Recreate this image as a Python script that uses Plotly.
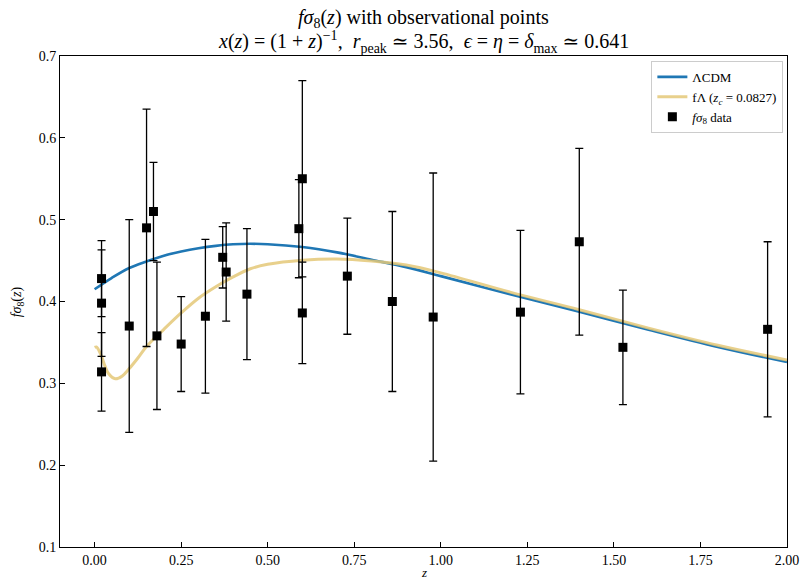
import plotly.graph_objects as go

# ---- observational f*sigma8 data ----
z_obs = [0.02, 0.02, 0.02, 0.10, 0.15, 0.17, 0.18, 0.25, 0.32, 0.37, 0.38, 0.44,
         0.59, 0.60, 0.60, 0.73, 0.86, 0.978, 1.23, 1.40, 1.526, 1.944]
fs8_obs = [0.428, 0.398, 0.314, 0.370, 0.490, 0.510, 0.358, 0.348, 0.382, 0.454, 0.436, 0.409,
           0.489, 0.550, 0.386, 0.431, 0.400, 0.381, 0.387, 0.473, 0.344, 0.366]
fs8_err = [0.0465, 0.065, 0.048, 0.130, 0.145, 0.060, 0.090, 0.058, 0.094, 0.0375, 0.060, 0.080,
           0.060, 0.120, 0.062, 0.071, 0.110, 0.176, 0.100, 0.114, 0.070, 0.107]

# ---- model curves ----
z_lcdm = [0.0, 0.05, 0.10, 0.15, 0.20, 0.25, 0.30, 0.35, 0.40, 0.45, 0.50, 0.60, 0.70,
          0.80, 0.90, 1.00, 1.20, 1.40, 1.60, 1.80, 2.00]
fs8_lcdm = [0.415, 0.429, 0.441, 0.449, 0.456, 0.461, 0.465, 0.468, 0.470, 0.4705, 0.470, 0.4665, 0.460,
            0.451, 0.442, 0.431, 0.409, 0.3875, 0.3655, 0.3445, 0.326]

z_fl = [0.0, 0.005, 0.01, 0.02, 0.03, 0.04, 0.06, 0.08, 0.10, 0.125, 0.15, 0.20, 0.25, 0.30,
        0.35, 0.40, 0.45, 0.50, 0.60, 0.70, 0.80, 0.90, 1.00, 1.20, 1.40, 1.60, 1.80, 2.00]
fs8_fl = [0.344, 0.3445, 0.342, 0.333, 0.321, 0.312, 0.3055, 0.309, 0.318, 0.331, 0.345, 0.366, 0.386,
          0.404, 0.418, 0.430, 0.440, 0.4455, 0.4505, 0.452, 0.4495, 0.4445, 0.435, 0.4115, 0.390,
          0.3675, 0.3465, 0.3285]

x_ticks = [0.0, 0.25, 0.5, 0.75, 1.0, 1.25, 1.5, 1.75, 2.0]
y_ticks = [0.1, 0.2, 0.3, 0.4, 0.5, 0.6, 0.7]

FONT = "Liberation Serif, DejaVu Serif, serif"

fig = go.Figure()
fig.add_trace(go.Scatter(
    x=z_lcdm, y=fs8_lcdm, mode="lines", name="ΛCDM",
    line=dict(color="#1f77b4", width=2.6, shape="spline"),
))
fig.add_trace(go.Scatter(
    x=z_fl, y=fs8_fl, mode="lines",
    name="fΛ (<i>z<sub>c</sub></i> = 0.0827)",
    line=dict(color="rgba(228,200,120,0.85)", width=3, shape="spline"),
))
fig.add_trace(go.Scatter(
    x=z_obs, y=fs8_obs, mode="markers", name="<i>fσ</i><sub>8</sub> data",
    marker=dict(symbol="square", size=9, color="black"),
    error_y=dict(type="data", array=fs8_err, visible=True, color="black",
                 thickness=1.3, width=4),
))

annotations = [
    dict(text="<i>fσ</i><sub>8</sub>(<i>z</i>) with observational points",
         xref="paper", yref="paper", x=0.5, y=1.077, xanchor="center", yanchor="middle",
         showarrow=False, font=dict(family=FONT, size=20, color="black")),
    dict(text="<i>x</i>(<i>z</i>) = (1 + <i>z</i>)<sup>−1</sup>,  <i>r</i><sub>peak</sub> ≃ 3.56,  "
              "<i>ϵ</i> = <i>η</i> = <i>δ</i><sub>max</sub> ≃ 0.641",
         xref="paper", yref="paper", x=0.5, y=1.028, xanchor="center", yanchor="middle",
         showarrow=False, font=dict(family=FONT, size=20, color="black")),
    dict(text="<i>z</i>", xref="paper", yref="paper", x=0.5, y=-0.051,
         xanchor="center", yanchor="middle", showarrow=False,
         font=dict(family=FONT, size=13, color="black")),
    dict(text="<i>fσ</i><sub>8</sub>(<i>z</i>)", xref="paper", yref="paper", x=-0.058, y=0.5,
         xanchor="center", yanchor="middle", textangle=-90, showarrow=False,
         font=dict(family=FONT, size=14, color="black")),
]

fig.update_layout(
    width=804, height=582,
    margin=dict(l=60, r=17, t=56, b=35, autoexpand=False),
    paper_bgcolor="white", plot_bgcolor="white",
    font=dict(family=FONT, size=14, color="black"),
    annotations=annotations,
    showlegend=True,
    legend=dict(
        x=0.995, y=0.99, xanchor="right", yanchor="top",
        bgcolor="rgba(255,255,255,0.9)", bordercolor="#cccccc", borderwidth=1,
        font=dict(family=FONT, size=13),
        tracegroupgap=0,
    ),
)
fig.update_xaxes(
    range=[-0.1, 2.0], tickvals=x_ticks, tickformat=".2f",
    ticks="inside", ticklen=5, tickcolor="black", showgrid=False, zeroline=False,
    showline=True, linecolor="black", linewidth=1, mirror=True, automargin=False,
    tickfont=dict(family=FONT, size=14),
)
fig.update_yaxes(
    range=[0.1, 0.7], tickvals=y_ticks, tickformat=".1f",
    ticks="inside", ticklen=5, tickcolor="black", showgrid=False, zeroline=False,
    showline=True, linecolor="black", linewidth=1, mirror=True, automargin=False,
    tickfont=dict(family=FONT, size=14),
)

fig.write_html("out.html")
